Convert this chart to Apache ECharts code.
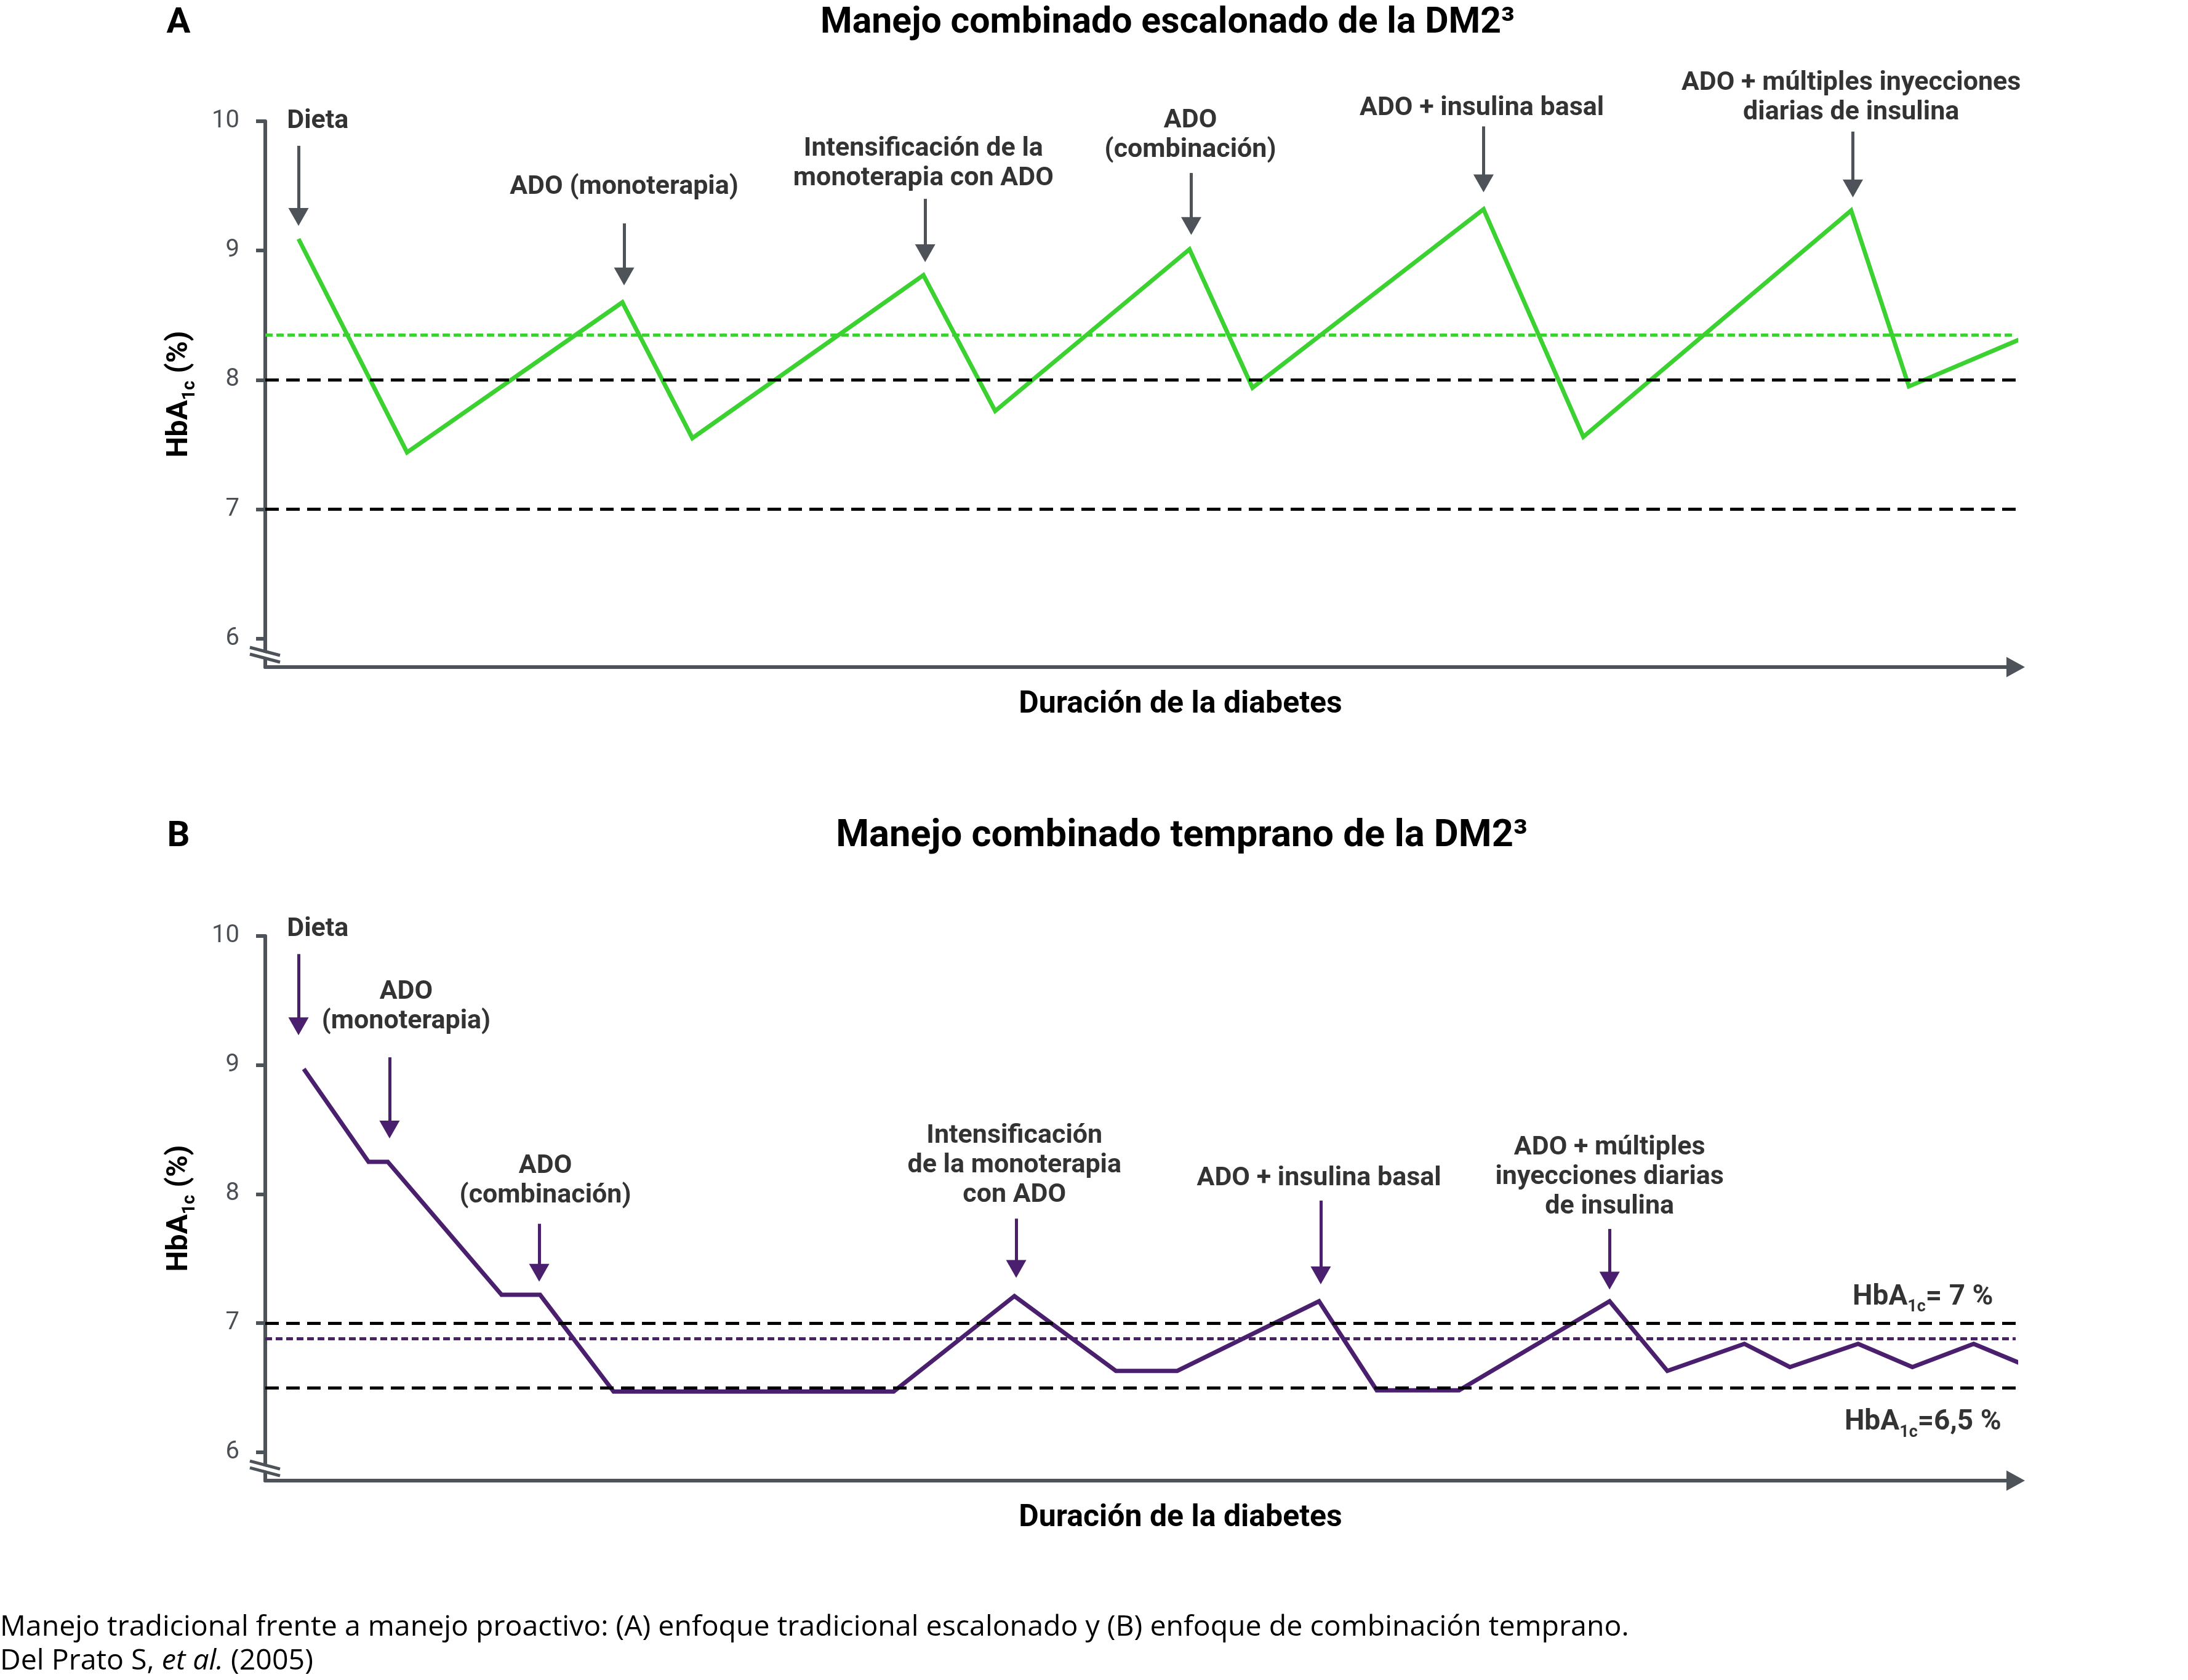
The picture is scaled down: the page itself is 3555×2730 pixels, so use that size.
<!DOCTYPE html>
<html>
<head>
<meta charset="utf-8">
<title>Manejo combinado de la DM2</title>
<script src="https://cdn.jsdelivr.net/npm/echarts@6/dist/echarts.min.js"></script>
<style>
html, body { margin: 0; padding: 0; background: #fff; }
#main { width: 3555px; height: 2730px; }
</style>
</head>
<body>
<div id="main"></div>
<script>
// panel A: manejo escalonado
var timeA = [1.9, 8.1, 20.4, 24.4, 37.6, 41.7, 52.8, 56.4, 69.6, 75.3, 90.6, 93.9, 100.7];
var hbaA = [9.09, 7.44, 8.60, 7.55, 8.81, 7.76, 9.01, 7.94, 9.32, 7.56, 9.31, 7.95, 8.34];
var targetsA = [8, 7];
var meanA = 8.35;
var stepsA = ['Dieta', 'ADO (monoterapia)', 'Intensificación de la\nmonoterapia con ADO', 'ADO\n(combinación)', 'ADO + insulina basal', 'ADO + múltiples inyecciones\ndiarias de insulina'];
var stepTimeA = [1.9, 20.5, 37.7, 52.9, 69.6, 90.7];
var arrowFromA = [9.81, 9.21, 9.40, 9.60, 9.96, 9.92];
var arrowToA = [9.26, 8.80, 8.98, 9.19, 9.52, 9.48];
var stepLabelXA = [3.0, 20.5, 37.6, 52.85, 69.5, 90.6];
var stepLabelYA = [10.0, 9.49, 9.67, 9.89, 10.10, 10.18];

// panel B: manejo temprano
var timeB = [2.2, 5.9, 7.0, 13.5, 15.7, 19.9, 35.9, 42.8, 48.6, 52.1, 60.2, 63.5, 68.2, 76.8, 80.1, 84.5, 87.1, 91.0, 94.1, 97.6, 100.6];
var hbaB = [8.97, 8.25, 8.25, 7.22, 7.22, 6.47, 6.47, 7.21, 6.63, 6.63, 7.17, 6.48, 6.48, 7.17, 6.63, 6.84, 6.66, 6.84, 6.66, 6.84, 6.67];
var targetsB = [7, 6.5];
var meanB = 6.88;
var stepsB = ['Dieta', 'ADO\n(monoterapia)', 'ADO\n(combinación)', 'Intensificación\nde la monoterapia\ncon ADO', 'ADO + insulina basal', 'ADO + múltiples\ninyecciones diarias\nde insulina'];
var stepTimeB = [1.9, 7.1, 15.65, 42.9, 60.3, 76.8];
var arrowFromB = [9.86, 9.06, 7.77, 7.81, 7.95, 7.73];
var arrowToB = [9.30, 8.50, 7.39, 7.42, 7.37, 7.33];
var stepLabelXB = [3.0, 8.05, 16.0, 42.8, 60.2, 76.8];
var stepLabelYB = [10.05, 9.45, 8.10, 8.22, 8.12, 8.13];
var targetLabelsB = ['{m|HbA}{s|1c}{m|= 7 %}', '{m|HbA}{s|1c}{m|=6,5 %}'];
var targetLabelXB = [94.7, 94.7];
var targetLabelYB = [7.20, 6.23];

var yTicks = [6, 7, 8, 9, 10];

var FONT = 'Roboto';
var axisColor = '#4d5359';
var green = '#3bd131';
var purple = '#4a1f6d';

var chart = echarts.init(document.getElementById('main'));

function zip(xs, ys) {
    var out = [];
    for (var i = 0; i < xs.length; i++) out.push([xs[i], ys[i]]);
    return out;
}

var subRich = {
    m: { fontFamily: FONT, fontSize: 46, fontWeight: 'bold', color: '#000', lineHeight: 60, verticalAlign: 'middle' },
    s: { fontFamily: FONT, fontSize: 27, fontWeight: 'bold', color: '#000', lineHeight: 27, verticalAlign: 'bottom' }
};

function xAxisFor(i) {
    return {
        type: 'value', gridIndex: i, min: 0, max: 100,
        axisLine: { onZero: false, symbol: ['none', 'triangle'], symbolSize: [33, 30], lineStyle: { color: axisColor, width: 6 } },
        axisTick: { show: false }, axisLabel: { show: false }, splitLine: { show: false },
        name: 'Duración de la diabetes', nameLocation: 'middle', nameGap: 36,
        nameTextStyle: { fontFamily: FONT, fontSize: 50, fontWeight: 'bold', color: '#000', padding: [0, 0, 0, 130] }
    };
}

function yAxisFor(i) {
    return {
        type: 'value', gridIndex: i, min: 5.78, max: 10,
        axisLine: { show: true, onZero: false, lineStyle: { color: axisColor, width: 6 } },
        axisTick: { show: true, length: 15, customValues: yTicks, lineStyle: { color: axisColor, width: 6 } },
        axisLabel: { customValues: yTicks, margin: 42, fontFamily: FONT, fontSize: 40, color: '#4a5056' },
        splitLine: { show: false },
        name: '{m|HbA}{s|1c}{m| (%)}', nameLocation: 'middle', nameRotate: 90, nameGap: 108,
        nameTextStyle: { rich: {
            m: { fontFamily: FONT, fontSize: 48, fontWeight: 'bold', color: '#000', lineHeight: 62, verticalAlign: 'middle' },
            s: { fontFamily: FONT, fontSize: 29, fontWeight: 'bold', color: '#000', lineHeight: 29, verticalAlign: 'bottom' }
        } }
    };
}

function refLines(targets, mean, meanColor, meanDash) {
    var d = [];
    for (var i = 0; i < targets.length; i++) {
        d.push({ yAxis: targets[i], lineStyle: { color: '#000', type: [22, 12], width: 5 } });
    }
    d.push({ yAxis: mean, lineStyle: { color: meanColor, type: meanDash, width: 5 } });
    return { silent: true, symbol: 'none', label: { show: false }, data: d };
}

function arrows(xs, from, to, color) {
    var d = [];
    for (var i = 0; i < xs.length; i++) {
        d.push([{ coord: [xs[i], from[i]] }, { coord: [xs[i], to[i]] }]);
    }
    return {
        silent: true, symbol: ['none', 'triangle'], symbolSize: [33, 29],
        label: { show: false }, lineStyle: { color: color, width: 5, type: 'solid' }, data: d
    };
}

function labelData(names, xs, ys) {
    var d = [];
    for (var i = 0; i < names.length; i++) d.push({ name: names[i], value: [xs[i], ys[i]] });
    return d;
}

function labelSeries(i, names, xs, ys, arrowCfg) {
    return {
        type: 'scatter', xAxisIndex: i, yAxisIndex: i, clip: false, silent: true,
        symbolSize: 1, itemStyle: { color: 'rgba(0,0,0,0)' },
        data: labelData(names, xs, ys),
        label: {
            show: true, position: 'inside', color: '#000',
            fontFamily: FONT, fontSize: 43, fontWeight: 'bold', lineHeight: 48,
            formatter: function (p) { return p.name; },
            rich: subRich
        },
        markLine: arrowCfg
    };
}

var option = {
    backgroundColor: '#fff',
    animation: false,
    grid: [
        { left: 431, top: 197, width: 2844, height: 887 },
        { left: 431, top: 1521, width: 2844, height: 885 }
    ],
    xAxis: [xAxisFor(0), xAxisFor(1)],
    yAxis: [yAxisFor(0), yAxisFor(1)],
    series: [
        {
            name: 'A', type: 'line', xAxisIndex: 0, yAxisIndex: 0, clip: false,
            showSymbol: false, silent: true,
            lineStyle: { color: green, width: 7, join: 'miter', cap: 'butt' },
            data: zip(timeA, hbaA),
            markLine: refLines(targetsA, meanA, green, [12, 6])
        },
        labelSeries(0, stepsA, stepLabelXA, stepLabelYA, arrows(stepTimeA, arrowFromA, arrowToA, axisColor)),
        {
            name: 'B', type: 'line', xAxisIndex: 1, yAxisIndex: 1, clip: false,
            showSymbol: false, silent: true,
            lineStyle: { color: purple, width: 7, join: 'miter', cap: 'butt' },
            data: zip(timeB, hbaB),
            markLine: refLines(targetsB, meanB, purple, [11, 6])
        },
        labelSeries(1, stepsB, stepLabelXB, stepLabelYB, arrows(stepTimeB, arrowFromB, arrowToB, purple)),
        labelSeries(1, targetLabelsB, targetLabelXB, targetLabelYB, null)
    ]
};
chart.setOption(option);

// titulos, pie y marcas de corte del eje
function txt(x, y, text, size, weight, align) {
    return {
        type: 'text', x: x, y: y, silent: true,
        style: { text: text, fontFamily: FONT, fontSize: size, fontWeight: weight, fill: '#000', align: align || 'center', verticalAlign: 'middle' }
    };
}

function breakMark(gi) {
    var p = chart.convertToPixel({ gridIndex: gi }, [0, 5.875]);
    var cx = p[0], cy = p[1];
    return [
        { type: 'line', silent: true, z: 100, shape: { x1: cx - 25, y1: cy - 7, x2: cx + 24, y2: cy + 7 }, style: { stroke: '#fff', lineWidth: 6 } },
        { type: 'line', silent: true, z: 100, shape: { x1: cx - 25, y1: cy - 12, x2: cx + 24, y2: cy + 1 }, style: { stroke: axisColor, lineWidth: 5 } },
        { type: 'line', silent: true, z: 100, shape: { x1: cx - 25, y1: cy - 1, x2: cx + 24, y2: cy + 12 }, style: { stroke: axisColor, lineWidth: 5 } }
    ];
}

var g = [
    txt(290, 38, 'A', 58, 'bold'),
    txt(1897, 38, 'Manejo combinado escalonado de la DM2³', 59, 'bold'),
    txt(290, 1360, 'B', 58, 'bold'),
    txt(1920, 1360, 'Manejo combinado temprano de la DM2³', 61.5, 'bold'),
    {
        type: 'text', x: 0, y: 2645, silent: true,
        style: { text: 'Manejo tradicional frente a manejo proactivo: (A) enfoque tradicional escalonado y (B) enfoque de combinación temprano.', fontFamily: 'Open Sans', fontSize: 46.5, fill: '#000', align: 'left', verticalAlign: 'middle' }
    },
    {
        type: 'text', x: 0, y: 2700, silent: true,
        style: {
            text: '{n|Del Prato S, }{i|et al.}{n| (2005)}', align: 'left', verticalAlign: 'middle',
            rich: {
                n: { fontFamily: 'Open Sans', fontSize: 46.5, fill: '#000' },
                i: { fontFamily: 'Open Sans', fontSize: 46.5, fontStyle: 'italic', fill: '#000' }
            }
        }
    }
];
g = g.concat(breakMark(0), breakMark(1));
chart.setOption({ graphic: g });
</script>
</body>
</html>
